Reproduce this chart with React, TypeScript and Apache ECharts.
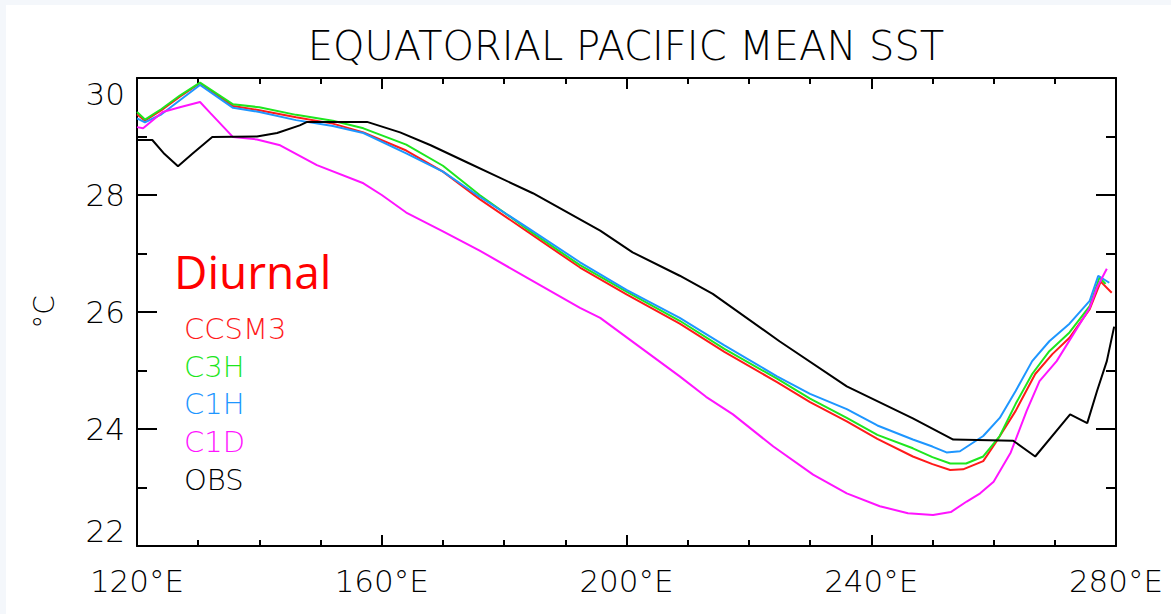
import React, { useEffect, useRef } from "react";
import * as echarts from "echarts";

const titleText = "EQUATORIAL PACIFIC MEAN SST";
const yUnit = "°C";
const noteText = "Diurnal";

const seriesNames = ["CCSM3", "C3H", "C1H", "C1D", "OBS"];
const seriesColors = ["#ff1a1a", "#1ee61e", "#1e96ff", "#ff14ff", "#000000"];

const ccsm3Lon = [120, 121.3, 124, 127, 130.3, 135.7, 140, 146, 152, 157, 164, 170, 176, 184, 192.4, 200, 208.7, 216, 224.6, 230, 236, 241, 246.8, 250, 252.9, 255, 258.3, 260.3, 263.6, 266.8, 269.6, 272.4, 275.7, 277.5, 279.3];
const ccsm3Val = [29.38, 29.27, 29.45, 29.68, 29.91, 29.52, 29.45, 29.33, 29.22, 29.07, 28.76, 28.4, 27.93, 27.36, 26.76, 26.3, 25.8, 25.32, 24.8, 24.46, 24.13, 23.83, 23.53, 23.4, 23.3, 23.31, 23.45, 23.76, 24.31, 24.94, 25.28, 25.56, 26.05, 26.52, 26.33];

const c3hLon = [120, 121.3, 124, 127, 130.3, 135.7, 140, 146, 152, 157, 164, 170, 176, 184, 192.4, 200, 208.7, 216, 224.6, 230, 236, 241, 246.8, 250, 252.9, 255.5, 258.3, 261, 263.6, 266.3, 269.1, 272.4, 275.7, 277.3, 278.3];
const c3hVal = [29.42, 29.29, 29.47, 29.7, 29.92, 29.55, 29.5, 29.37, 29.27, 29.14, 28.86, 28.5, 28.0, 27.4, 26.8, 26.35, 25.85, 25.37, 24.86, 24.52, 24.19, 23.9, 23.67, 23.52, 23.41, 23.41, 23.53, 23.88, 24.43, 24.94, 25.33, 25.65, 26.1, 26.59, 26.48];

const c1hLon = [120, 121.3, 124, 127, 130.3, 135.7, 140, 146, 152, 157, 164, 170, 176, 184, 192.4, 200, 208.7, 216, 224.6, 230, 236, 241, 246.8, 250, 252.3, 254.5, 258.3, 261, 263.6, 266.3, 269.1, 272.4, 275.7, 277.1, 278.9];
const c1hVal = [29.31, 29.24, 29.38, 29.62, 29.88, 29.49, 29.42, 29.28, 29.18, 29.06, 28.71, 28.4, 27.97, 27.43, 26.85, 26.38, 25.9, 25.43, 24.9, 24.6, 24.34, 24.06, 23.82, 23.7, 23.6, 23.62, 23.88, 24.19, 24.65, 25.16, 25.5, 25.8, 26.19, 26.62, 26.5];

const c1dLon = [120, 121, 124.2, 127, 130.3, 132, 135.7, 139.6, 143.4, 149.4, 157, 160, 164, 170, 176, 184, 192.4, 195.7, 202.2, 208.7, 213, 217.4, 224, 230.5, 236, 241.4, 246, 250.1, 253, 255.6, 257.8, 260, 262.8, 265.4, 267.5, 270.3, 275.7, 276.9, 278.5];
const c1dVal = [29.16, 29.14, 29.42, 29.5, 29.59, 29.4, 28.99, 28.95, 28.85, 28.51, 28.2, 28.0, 27.7, 27.38, 27.05, 26.57, 26.07, 25.9, 25.4, 24.9, 24.55, 24.25, 23.7, 23.22, 22.9, 22.68, 22.56, 22.53, 22.58, 22.76, 22.9, 23.1, 23.6, 24.31, 24.82, 25.16, 26.07, 26.42, 26.74];

const obsLon = [120, 122.5, 124.5, 126.7, 129, 132.3, 139.6, 142.9, 146.6, 147.8, 157.6, 163, 168, 173.9, 184.7, 195.7, 201, 208.7, 214.1, 225, 236, 246.8, 253.4, 263.2, 266.8, 272.5, 275.3, 276.9, 278.5, 279.7];
const obsVal = [28.94, 28.94, 28.7, 28.49, 28.7, 28.99, 29.0, 29.06, 29.19, 29.25, 29.25, 29.07, 28.85, 28.56, 28.03, 27.39, 27.02, 26.62, 26.31, 25.5, 24.73, 24.18, 23.82, 23.8, 23.53, 24.25, 24.1, 24.65, 25.16, 25.75];

const lonSets = [ccsm3Lon, c3hLon, c1hLon, c1dLon, obsLon];
const valSets = [ccsm3Val, c3hVal, c1hVal, c1dVal, obsVal];

const xMin = 120, xMax = 280, xStep = 40;
const yMin = 22, yMax = 30, yStep = 2;

const FONT = "'DejaVu Sans', sans-serif";

export default function App() {
  const ref = useRef<HTMLDivElement>(null);
  useEffect(() => {
    document.body.style.margin = "0";
    const chart = echarts.init(ref.current!, null, { renderer: "svg" });
    const axisLine = { show: true, lineStyle: { color: "#000", width: 2 } };
    const xCommon = {
      type: "value",
      min: xMin,
      max: xMax,
      interval: xStep,
      axisLine,
      splitLine: { show: false },
      axisTick: { show: true, inside: true, length: 11, lineStyle: { color: "#000", width: 2 } },
      minorTick: { show: true, splitNumber: 4, length: 6, lineStyle: { color: "#000", width: 2 } },
    };
    const yCommon = {
      type: "value",
      min: yMin,
      max: yMax,
      interval: yStep,
      axisLine,
      splitLine: { show: false },
      axisTick: { show: true, inside: true, length: 20, lineStyle: { color: "#000", width: 2 } },
      minorTick: { show: true, splitNumber: 2, length: 10, lineStyle: { color: "#000", width: 2 } },
    };
    const legendTops = [329, 367, 404, 442, 480];
    chart.setOption({
      animation: false,
      grid: { left: 137, right: 55, top: 78, bottom: 68 },
      xAxis: [
        {
          ...xCommon,
          position: "bottom",
          axisLabel: {
            show: true,
            margin: 19,
            color: "#000",
            fontSize: 31,
            fontFamily: FONT,
            fontWeight: 200,
            formatter: (v: number) => v + "°E",
          },
        },
        { ...xCommon, position: "top", axisLabel: { show: false } },
      ],
      yAxis: [
        {
          ...yCommon,
          position: "left",
          axisLabel: {
            show: true,
            margin: 12,
            color: "#000",
            fontSize: 31,
            fontFamily: FONT,
            fontWeight: 200,
            verticalAlignMinLabel: "bottom",
            verticalAlignMaxLabel: "top",
          },
        },
        { ...yCommon, position: "right", axisLabel: { show: false } },
      ],
      graphic: [
        { type: "rect", z: -10, shape: { x: 6, y: 5, width: 1165, height: 609 }, style: { fill: "#ffffff" } },
        {
          type: "text",
          x: 626,
          y: 46,
          style: {
            text: titleText,
            fill: "#000",
            font: `200 40px ${FONT}`,
            align: "center",
            verticalAlign: "middle",
          },
        },
        {
          type: "text",
          x: 44,
          y: 312,
          rotation: Math.PI / 2,
          style: {
            text: yUnit,
            fill: "#000",
            font: `200 28px ${FONT}`,
            align: "center",
            verticalAlign: "middle",
          },
        },
        {
          type: "text",
          x: 174,
          y: 271,
          style: {
            text: noteText,
            fill: "#ff0000",
            font: `46px 'Open Sans', sans-serif`,
            align: "left",
            verticalAlign: "middle",
          },
        },
        ...seriesNames.map((n, i) => ({
          type: "text",
          x: 184,
          y: legendTops[i],
          style: {
            text: n,
            fill: seriesColors[i],
            font: `200 29px ${FONT}`,
            align: "left",
            verticalAlign: "middle",
          },
        })),
      ],
      series: seriesNames.map((n, i) => ({
        name: n,
        type: "line",
        xAxisIndex: 0,
        yAxisIndex: 0,
        showSymbol: false,
        symbol: "none",
        lineStyle: { color: seriesColors[i], width: 2 },
        data: lonSets[i].map((x, j) => [x, valSets[i][j]]),
      })),
    });
    return () => chart.dispose();
  }, []);
  return <div ref={ref} style={{ width: 1171, height: 614, background: "#f4f7fb" }} />;
}
